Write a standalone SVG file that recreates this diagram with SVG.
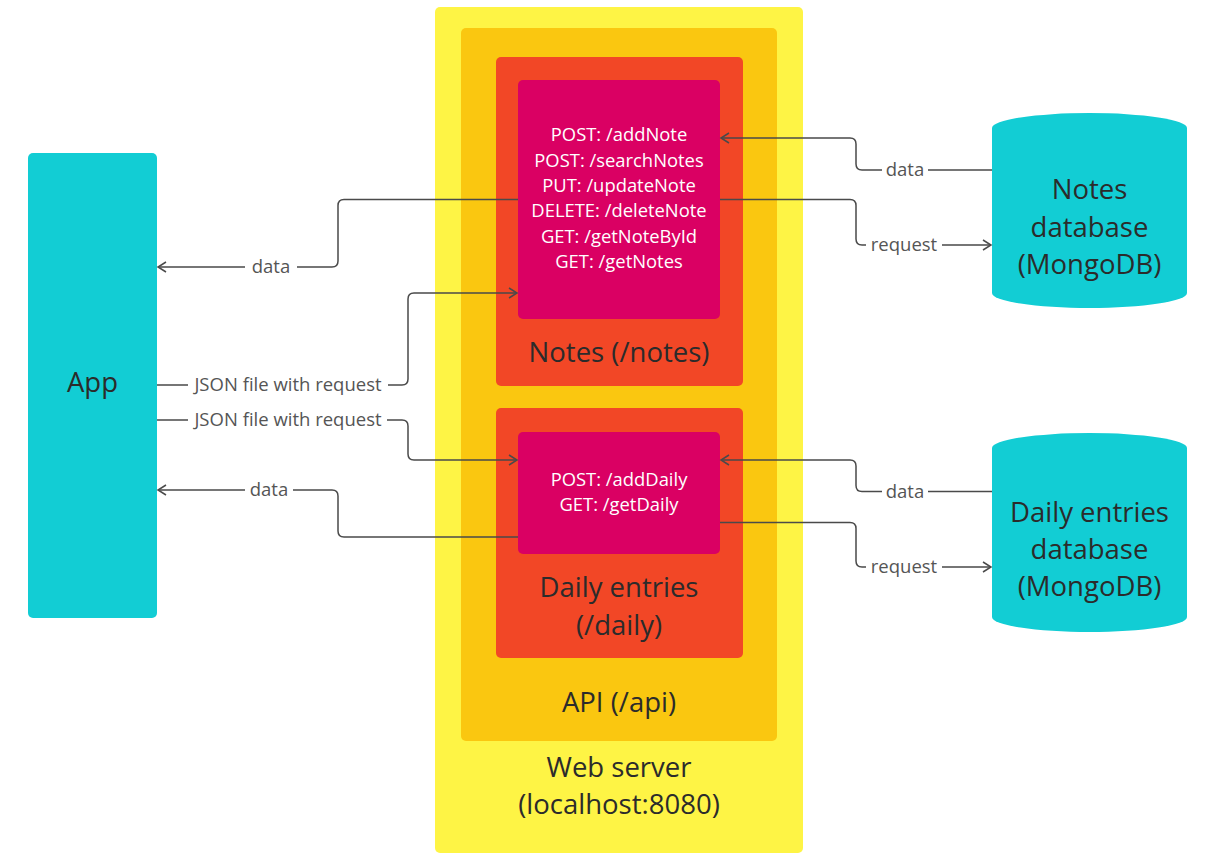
<svg xmlns="http://www.w3.org/2000/svg" width="1210" height="857" viewBox="0 0 1210 857">
<style>
.big{font-family:"Open Sans","Liberation Sans",sans-serif;font-size:27.5px;fill:#2b2b2b;text-anchor:middle}
.route{font-family:"Open Sans","Liberation Sans",sans-serif;font-size:18.4px;fill:#ffffff;text-anchor:middle}
.lbl{font-family:"Open Sans","Liberation Sans",sans-serif;font-size:18.5px;fill:#555555;text-anchor:middle}
.conn{fill:none;stroke:#4a4a4a;stroke-width:1.5}
.gap{fill:#ffffff}
</style>
<defs>
<marker id="arr" markerUnits="userSpaceOnUse" markerWidth="12" markerHeight="14" refX="9" refY="6" orient="auto">
<path d="M1,1 L9,6 L1,11" fill="none" stroke="#4a4a4a" stroke-width="1.5"/>
</marker>
</defs>
<rect width="1210" height="857" fill="#ffffff"/>
<g id="webserver">
<rect x="435" y="7" width="368" height="846" rx="5" fill="#fef445"/>
<text class="big" x="619" y="777">Web server</text>
<text class="big" x="619" y="814">(localhost:8080)</text>
</g>
<g id="api">
<rect x="461" y="28" width="316" height="713" rx="5" fill="#fac710"/>
<text class="big" x="619" y="712">API (/api)</text>
</g>
<g id="notes">
<rect x="496" y="57" width="247" height="329" rx="5" fill="#f24726"/>
<text class="big" x="619" y="362">Notes (/notes)</text>
</g>
<g id="notes-routes">
<rect x="518" y="80" width="202" height="239" rx="5" fill="#da0063"/>
<text class="route" x="619" y="141">POST: /addNote</text>
<text class="route" x="619" y="166.5">POST: /searchNotes</text>
<text class="route" x="619" y="192">PUT: /updateNote</text>
<text class="route" x="619" y="217">DELETE: /deleteNote</text>
<text class="route" x="619" y="242.5">GET: /getNoteById</text>
<text class="route" x="619" y="268">GET: /getNotes</text>
</g>
<g id="daily">
<rect x="496" y="408" width="247" height="250" rx="5" fill="#f24726"/>
<text class="big" x="619" y="597">Daily entries</text>
<text class="big" x="619" y="635">(/daily)</text>
</g>
<g id="daily-routes">
<rect x="518" y="432" width="202" height="122" rx="5" fill="#da0063"/>
<text class="route" x="619" y="486">POST: /addDaily</text>
<text class="route" x="619" y="511">GET: /getDaily</text>
</g>
<g id="app">
<rect x="28" y="153" width="129" height="465" rx="5" fill="#12cdd4"/>
<text class="big" x="92.5" y="392">App</text>
</g>
<g id="notes-db">
<path d="M992,128 A97.5,15 0 0 1 1187,128 V293 A97.5,15 0 0 1 992,293 Z" fill="#12cdd4"/>
<text class="big" x="1089.5" y="199">Notes</text>
<text class="big" x="1089.5" y="236.5">database</text>
<text class="big" x="1089.5" y="273.5">(MongoDB)</text>
</g>
<g id="daily-db">
<path d="M992,448 A97.5,15 0 0 1 1187,448 V617 A97.5,15 0 0 1 992,617 Z" fill="#12cdd4"/>
<text class="big" x="1089.5" y="521.5">Daily entries</text>
<text class="big" x="1089.5" y="558.5">database</text>
<text class="big" x="1089.5" y="595.5">(MongoDB)</text>
</g>
<g id="connectors">
<path class="conn" d="M518,199.5 H344 Q338,199.5 338,205.5 V261 Q338,267 332,267 H158" marker-end="url(#arr)"/>
<path class="conn" d="M157,385 H402 Q408,385 408,379 V299 Q408,293 414,293 H517" marker-end="url(#arr)"/>
<path class="conn" d="M157,420 H402 Q408,420 408,426 V454 Q408,460 414,460 H517" marker-end="url(#arr)"/>
<path class="conn" d="M518,537 H344 Q338,537 338,531 V496 Q338,490 332,490 H158" marker-end="url(#arr)"/>
<path class="conn" d="M992,170 H862 Q856,170 856,164 V144 Q856,138 850,138 H721" marker-end="url(#arr)"/>
<path class="conn" d="M720,199.5 H850 Q856,199.5 856,205.5 V239 Q856,245 862,245 H991" marker-end="url(#arr)"/>
<path class="conn" d="M992,491.5 H862 Q856,491.5 856,485.5 V466 Q856,460 850,460 H721" marker-end="url(#arr)"/>
<path class="conn" d="M720,522.5 H850 Q856,522.5 856,528.5 V561 Q856,567 862,567 H991" marker-end="url(#arr)"/>
<rect class="gap" x="245" y="257" width="52" height="20"/>
<text class="lbl" x="271" y="273">data</text>
<rect class="gap" x="188" y="375" width="200" height="20"/>
<text class="lbl" x="288" y="391">JSON file with request</text>
<rect class="gap" x="188" y="410" width="199" height="20"/>
<text class="lbl" x="288" y="426">JSON file with request</text>
<rect class="gap" x="245" y="480" width="48" height="20"/>
<text class="lbl" x="269" y="496">data</text>
<rect class="gap" x="882" y="160" width="46" height="20"/>
<text class="lbl" x="905" y="176">data</text>
<rect class="gap" x="866" y="235" width="76" height="20"/>
<text class="lbl" x="904" y="251">request</text>
<rect class="gap" x="882" y="481.5" width="46" height="20"/>
<text class="lbl" x="905" y="497.5">data</text>
<rect class="gap" x="866" y="557" width="76" height="20"/>
<text class="lbl" x="904" y="573">request</text>
</g>
</svg>
